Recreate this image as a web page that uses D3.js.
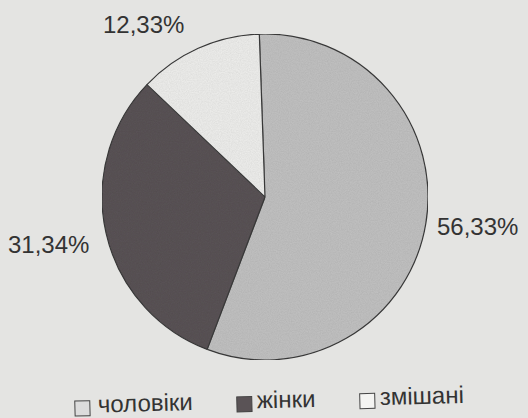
<!DOCTYPE html>
<html>
<head>
<meta charset="utf-8">
<script src="https://cdn.jsdelivr.net/npm/d3@7"></script>
<style>
  html, body { margin: 0; padding: 0; background: #e4e4e2; }
  svg { display: block; }
  text { font-family: "Liberation Sans", Arial, sans-serif; fill: #333; }
</style>
</head>
<body>
<svg id="chart" width="528" height="418"></svg>
<script>
// ---- data ----
const categories = ["чоловіки", "жінки", "змішані"];
const values = [56.33, 31.34, 12.33];
const valueLabels = ["56,33%", "31,34%", "12,33%"];
const colors = ["#c2c2c2", "#5a5356", "#efefed"];
const legendColors = ["#dcdcdc", "#5a5356", "#f4f4f2"];

const svg = d3.select("#chart");
const cx = 265, cy = 197, r = 163;

const defs = svg.append("defs");
const f = defs.append("filter").attr("id", "grain").attr("x", 0).attr("y", 0).attr("width", 1).attr("height", 1);
f.append("feTurbulence").attr("type", "fractalNoise").attr("baseFrequency", 0.9).attr("numOctaves", 2).attr("seed", 3).attr("result", "noise");
f.append("feColorMatrix").attr("in", "noise").attr("type", "matrix")
  .attr("values", "0 0 0 0 0.5  0 0 0 0 0.5  0 0 0 0 0.5  0 0 0 0.35 0").attr("result", "g");
f.append("feComposite").attr("in", "g").attr("in2", "SourceGraphic").attr("operator", "in").attr("result", "gi");
f.append("feBlend").attr("in", "gi").attr("in2", "SourceGraphic").attr("mode", "multiply");

const offset = -2 * Math.PI / 180;
const pie = d3.pie().sort(null).value(d => d)
  .startAngle(offset).endAngle(2 * Math.PI + offset);
const arc = d3.arc().innerRadius(0).outerRadius(r);
const arcs = pie(values);

const g = svg.append("g").attr("transform", `translate(${cx},${cy})`);
g.selectAll("path.slice").data(arcs).join("path")
  .attr("class", "slice")
  .attr("d", arc)
  .attr("fill", (d, i) => colors[i])
  .attr("filter", "url(#grain)")
  .attr("stroke", "#3a3a3a")
  .attr("stroke-width", 1.2)
  .attr("stroke-linejoin", "round");

// value labels
const labelPos = [
  { x: 437, y: 235 },
  { x: 8, y: 253 },
  { x: 103, y: 33 }
];
svg.selectAll("text.val").data(arcs).join("text")
  .attr("class", "val")
  .attr("x", (d, i) => labelPos[i].x)
  .attr("y", (d, i) => labelPos[i].y)
  .attr("font-size", 24)
  .text((d, i) => valueLabels[i]);

// legend
const legend = svg.append("g").attr("transform", "rotate(-1.5 270 408)");
const itemX = [75, 237, 360];
const items = legend.selectAll("g.item").data(categories).join("g")
  .attr("class", "item")
  .attr("transform", (d, i) => `translate(${itemX[i]},408)`);
items.append("rect")
  .attr("x", 0).attr("y", -12)
  .attr("width", 15).attr("height", 15)
  .attr("fill", (d, i) => legendColors[i])
  .attr("stroke", "#444").attr("stroke-width", 1);
items.append("text")
  .attr("x", (d, i) => i === 0 ? 23 : 20).attr("y", 0)
  .attr("font-size", 24)
  .text(d => d);
</script>
</body>
</html>
